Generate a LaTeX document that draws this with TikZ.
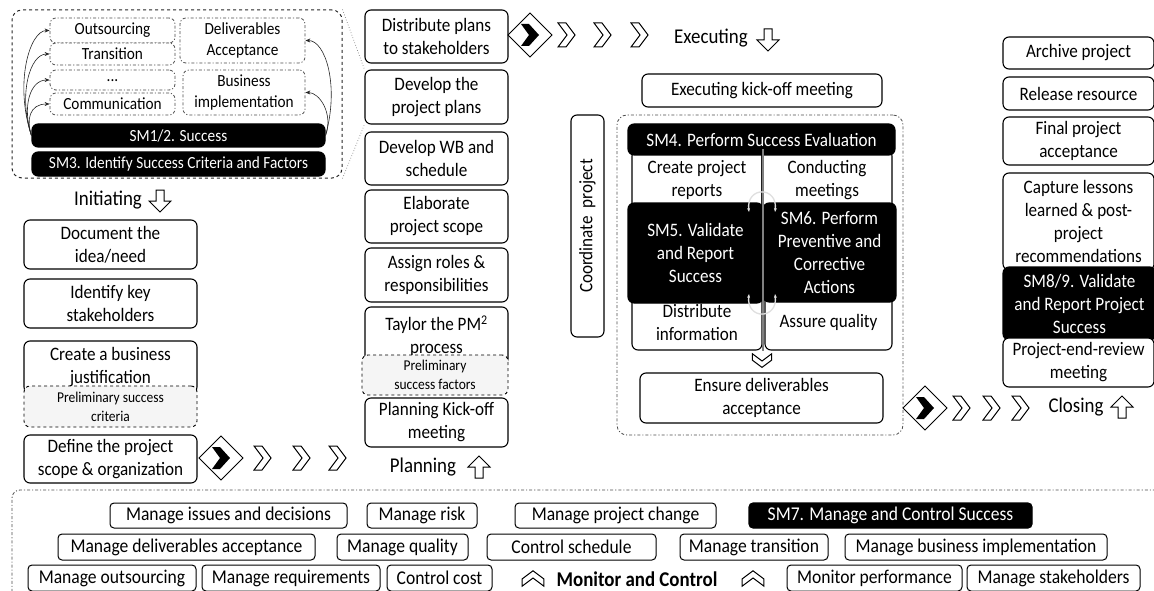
\documentclass[tikz,border=0pt]{standalone}
\usepackage{fontspec}
\setmainfont{Carlito}[FakeStretch=0.9]
\usetikzlibrary{arrows.meta,positioning}
\tikzset{task/.style={draw, rounded corners=6, line width=1.1pt, fill=white, align=center, inner sep=1pt, font=\fontsize{19}{23}\selectfont}}
\tikzset{smtask/.style={task, fill=black, text=white}}
\tikzset{prelim/.style={task, dashed, line width=0.9pt, fill=gray!8, font=\fontsize{15}{19}\selectfont}}
\tikzset{dotbox/.style={task, dash dot, line width=0.8pt, draw=gray!60!black, font=\fontsize{17}{21}\selectfont}}
\tikzset{mctask/.style={task, line width=1pt, rounded corners=4, font=\fontsize{19.5}{23}\selectfont}}
\tikzset{phase/.style={font=\fontsize{21}{25}\selectfont, inner sep=0pt}}
\tikzset{sz/.style 2 args={minimum width=#1pt, minimum height=#2pt}}
\tikzset{sarr/.style={draw, -{Stealth[length=5pt,width=4pt]}, line width=0.6pt, gray!30!black}}
\tikzset{callout/.style={draw, dotted, gray, line width=0.7pt}}
\tikzset{cyc/.style={draw, {Stealth[length=4pt]}-{Stealth[length=4pt]}, line width=1.3pt, gray!25}}
\tikzset{chev/.pic={\draw[line width=1pt, line join=miter, fill=white] (-9,-12) -- (-1,-12) -- (8,0) -- (-1,12) -- (-9,12) -- (0,0) -- cycle;}}
\tikzset{gate/.pic={\draw[line width=1pt, fill=white] (0,-22) -- (22,0) -- (0,22) -- (-22,0) -- cycle;
  \fill (-9,-11) -- (-1,-11) -- (9,0) -- (-1,11) -- (-9,11) -- (-1,0) -- cycle;}}
\tikzset{downarr/.pic={\draw[line width=1pt, line join=miter, fill=white] (-4,-11) -- (4,-11) -- (4,0) -- (11,0) -- (0,11) -- (-11,0) -- (-4,0) -- cycle;}}

\begin{document}
\begin{tikzpicture}[x=1pt, y=-1pt]
\useasboundingbox (0,0) rectangle (1154,591);

% success management close-up
\node[draw, dashed, rounded corners=10, line width=1pt, gray!30!black, sz={330}{168}] (zoombox) at (177,94) {};
\node[dotbox, sz={125}{25}] (outs) at (112.5,30.5) {Outsourcing};
\node[dotbox, sz={125}{22}] (trans) at (112.5,54) {Transition};
\node[dotbox, sz={125}{20}] (dots) at (112.5,80) {\raisebox{-4pt}{...}};
\node[dotbox, sz={125}{22}] (comm) at (112.5,104) {Communication};
\node[dotbox, sz={125}{45}] (delacc) at (242.5,40.5) {Deliverables\\Acceptance};
\node[dotbox, sz={122}{45}] (busimp) at (244,92.5) {Business\\implementation};
\node[smtask, sz={293}{23}, font=\fontsize{17}{21}\selectfont] (sm12) at (178.5,135.5) {SM1/2. Success};
\node[smtask, sz={293}{24}, font=\fontsize{17}{21}\selectfont] (sm3) at (178.5,164) {SM3. Identify Success Criteria and Factors};

\foreach \n/\b in {outs/52, trans/40, dots/28, comm/16}
  \draw[sarr] (sm12.west) .. controls +(-\b/3,-\b) and +(-20,0) .. (\n.west);
\draw[sarr] (sm12.east) .. controls +(14,-50) and +(20,0) .. (delacc.east);
\draw[sarr] (sm12.east) .. controls +(8,-22) and +(14,0) .. (busimp.east);

% Initiating
\node[phase] (initlbl) at (108,200) {Initiating};
\pic at (160,201) {downarr};
\node[task, sz={173}{49}] (idea) at (110.5,244.5) {Document the\\idea/need};
\node[task, sz={173}{49}] (stake) at (110.5,303.5) {Identify key\\stakeholders};
\node[task, sz={173}{52}] (busjust) at (110.5,367) {Create a business\\justification};
\node[prelim, sz={173}{41}] (prelcrit) at (110.5,406.5) {Preliminary success\\criteria};
\node[task, sz={173}{48}] (scope) at (110.5,459) {Define the project\\scope \& organization};

\pic at (221,458) {gate};
\foreach \x in {263,302,338} \pic at (\x,458) {chev};

% Planning
\node[task, sz={143}{53}] (distr) at (436.5,36.5) {Distribute plans\\to stakeholders};
\node[task, sz={143}{54}] (devpl) at (436.5,97) {Develop the\\project plans};
\node[task, sz={143}{53}] (devwb) at (436.5,158.5) {Develop WB and\\schedule};
\node[task, sz={143}{53}] (elab) at (436.5,216.5) {Elaborate\\project scope};
\node[task, sz={143}{54}] (roles) at (436.5,275) {Assign roles \&\\responsibilities};
\node[task, sz={143}{58}] (tailor) at (436.5,336) {Taylor the PM\textsuperscript{2}\\process};
\node[prelim, sz={146}{40}] (prelfac) at (435,375) {Preliminary\\success factors};
\node[task, sz={143}{49}] (plkick) at (436.5,422.5) {Planning Kick-off\\meeting};
\node[phase] (planlbl) at (423,467) {Planning};
\pic[rotate=180] at (479,467) {downarr};

\draw[callout] (zoombox.north east) -- (devpl.north west);
\draw[callout] (zoombox.south east) -- (devpl.south west);

\pic at (530,35) {gate};
\foreach \x in {567,603,640} \pic at (\x,35) {chev};

% Executing
\node[phase] (execlbl) at (711,38) {Executing};
\pic at (768,40) {downarr};
\node[task, sz={240}{33}] (exkick) at (762,90.5) {Executing kick-off meeting};
\node[task, rotate=90, sz={222}{33}] (coord) at (587.5,226) {Coordinate\ \ project};
\node[dotbox, sz={286}{320}, rounded corners=10, fill=none] (exbox) at (760,275) {};
\node[task, sz={130}{60}] (crep) at (697,180) {Create project\\reports};
\node[task, sz={130}{60}] (cmeet) at (827,180) {Conducting\\meetings};
\node[task, sz={130}{56}] (dinfo) at (697,322) {Distribute\\information};
\node[task, sz={127}{56}] (aq) at (828.5,322) {Assure quality};
\node[smtask, sz={267}{31}] (sm4) at (761.5,139.5) {SM4. Perform Success Evaluation};
\node[smtask, sz={135}{100}] (sm5) at (695.5,253) {SM5. Validate\\and Report\\Success};
\node[smtask, sz={133}{99}] (sm6) at (829.5,252.5) {SM6. Perform\\Preventive and\\Corrective\\Actions};
\draw[gray, line width=2pt] (crep.north east) -- (dinfo.south east);
\draw[cyc] (749,212) .. controls (746,186) and (778,186) .. (775,212);
\draw[cyc] (749,294) .. controls (746,320) and (778,320) .. (775,294);
\pic[rotate=-90, scale=0.8] at (762,361) {chev};
\node[task, sz={243}{50}] (ensure) at (761.5,398) {Ensure deliverables\\acceptance};

% Closing
\node[task, sz={151}{32}] (archive) at (1078.5,53) {Archive project};
\node[task, sz={151}{33}] (release) at (1078.5,93.5) {Release resource};
\node[task, sz={151}{48}] (finacc) at (1078.5,141) {Final project\\acceptance};
\node[task, sz={151}{97}] (lessons) at (1078.5,221.5) {Capture lessons\\learned \& post-\\project\\recommendations};
\node[smtask, sz={153}{73}] (sm89) at (1079.5,303.5) {SM8/9. Validate\\and Report Project\\Success};
\node[task, sz={151}{49}] (endrev) at (1078.5,362.5) {Project-end-review\\meeting};

\pic at (925,408) {gate};
\foreach \x in {962,992,1021} \pic at (\x,408) {chev};
\node[phase] (closlbl) at (1076,407) {Closing};
\pic[rotate=180] at (1122,407) {downarr};

% Monitor and Control
\node[dotbox, sz={1160}{112}, rounded corners=8, fill=none] (mcbox) at (592,546) {};
\node[mctask, sz={237}{25}] (issues) at (228.5,515.5) {Manage issues and decisions};
\node[mctask, sz={110}{25}] (risk) at (422,515.5) {Manage risk};
\node[mctask, sz={201}{25}] (change) at (615.5,515.5) {Manage project change};
\node[smtask, rounded corners=4, font=\fontsize{19.5}{23}\selectfont, sz={283}{25}] (sm7) at (890.5,515.5) {SM7. Manage and Control Success};
\node[mctask, sz={257}{26}] (delaccm) at (186.5,547) {Manage deliverables acceptance};
\node[mctask, sz={131}{26}] (quality) at (402.5,547) {Manage quality};
\node[mctask, sz={169}{26}] (sched) at (571.5,547) {Control schedule};
\node[mctask, sz={148}{26}] (transm) at (754,547) {Manage transition};
\node[mctask, sz={262}{26}] (busimpm) at (976,547) {Manage business implementation};
\node[mctask, sz={168}{26}] (outsm) at (112,578) {Manage outsourcing};
\node[mctask, sz={178}{26}] (reqs) at (291,578) {Manage requirements};
\node[mctask, sz={105}{26}] (cost) at (439.5,578) {Control cost};
\node[phase, font=\fontsize{21}{25}\selectfont\bfseries] (mclbl) at (637,579) {Monitor and Control};
\pic[rotate=90, scale=0.9] at (533,578) {chev};
\pic[rotate=90, scale=0.9] at (753,578) {chev};
\node[mctask, sz={175}{26}] (perf) at (874.5,578) {Monitor performance};
\node[mctask, sz={173}{26}] (stakem) at (1053.5,578) {Manage stakeholders};
\end{tikzpicture}
\end{document}
